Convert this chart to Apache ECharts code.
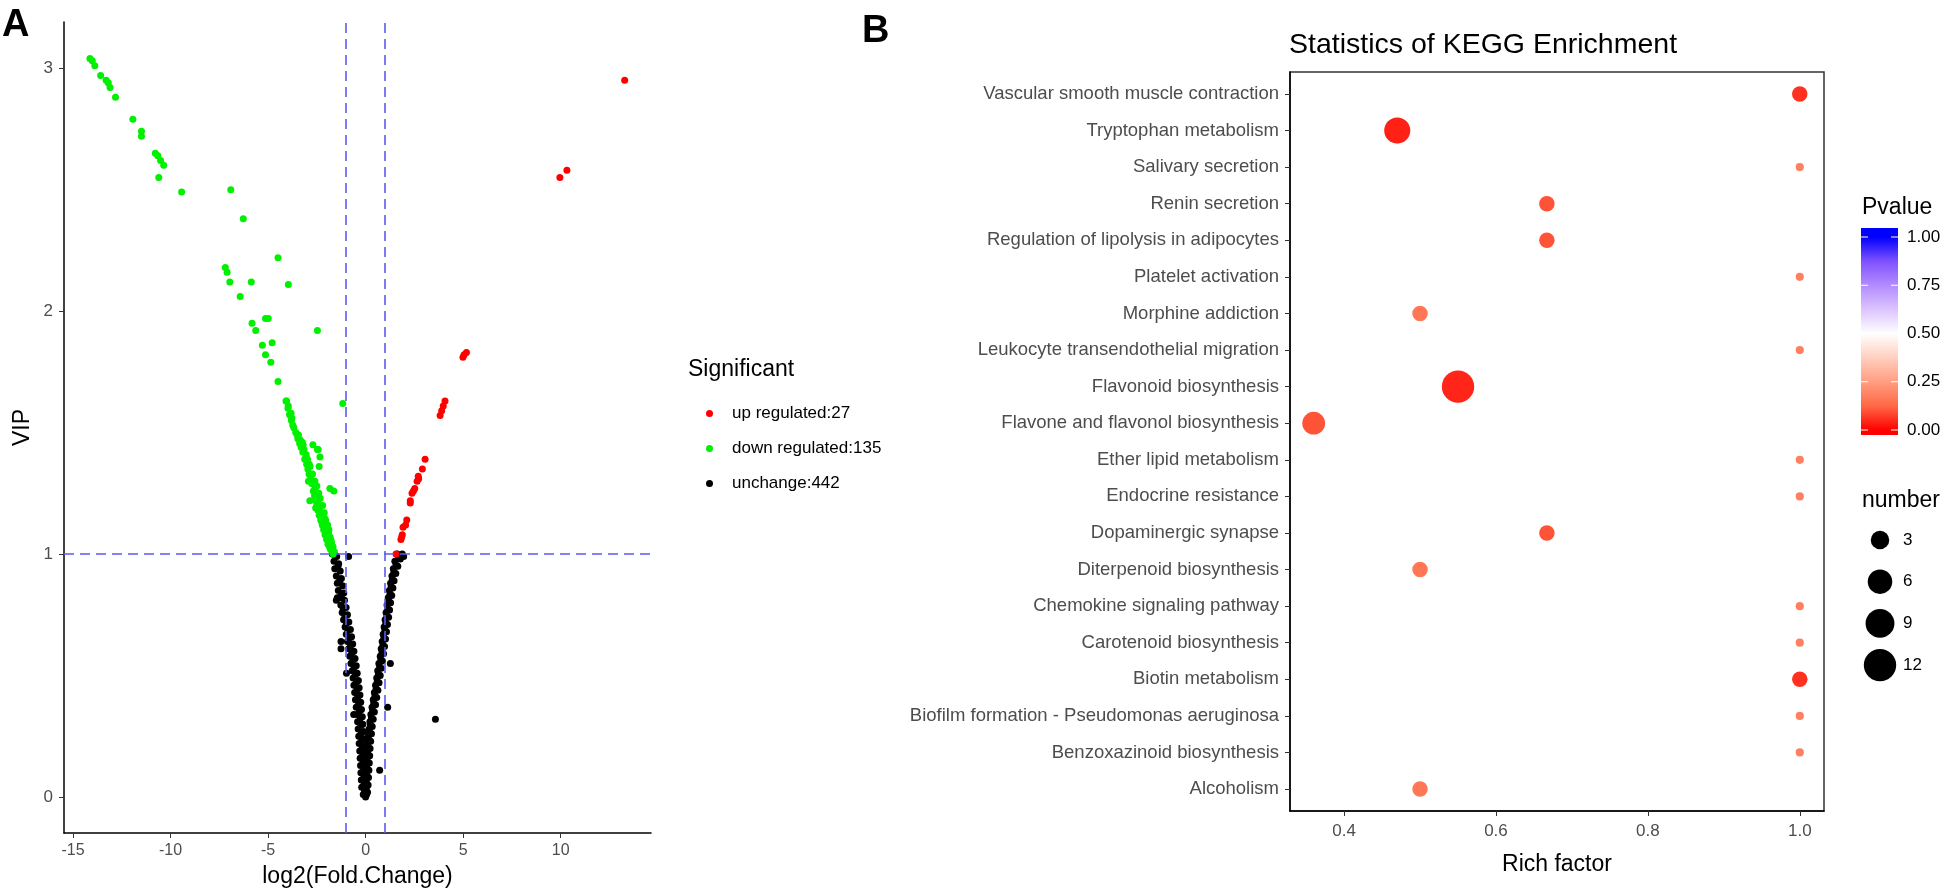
<!DOCTYPE html>
<html>
<head>
<meta charset="utf-8">
<script src="https://cdn.jsdelivr.net/npm/echarts@6/dist/echarts.min.js"></script>
<style>
html,body{margin:0;padding:0;background:#fff;}
#chart{width:1946px;height:893px;}
</style>
</head>
<body>
<div id="chart"></div>
<script>
// ---------------- Panel A : volcano plot data (log2 fold change, VIP) ----------------
const volcanoXTicks = [-15, -10, -5, 0, 5, 10];
const volcanoYTicks = [0, 1, 2, 3];
const legendUp = 'up regulated:27';
const legendDown = 'down regulated:135';
const legendUnchanged = 'unchange:442';

const volcanoUp = [
  [13.28,2.95],[9.96,2.55],[10.32,2.58],[5.17,1.83],[4.99,1.81],[4.07,1.63],[3.98,1.61],
  [3.82,1.57],[3.05,1.39],[2.91,1.35],[2.72,1.31],[2.64,1.30],[2.52,1.27],[2.38,1.25],
  [2.29,1.22],[2.29,1.21],[2.11,1.14],[1.92,1.11],[1.88,1.08],[1.81,1.06],[1.56,1.00],
  [2.45,1.26],[2.70,1.32],[2.05,1.12],[1.85,1.07],[3.90,1.59],[5.05,1.82]
];

const volcanoDown = [
  [-14.13,3.04],[-14.01,3.03],[-13.88,3.01],[-13.58,2.97],[-13.30,2.95],[-13.19,2.94],
  [-13.10,2.92],[-12.82,2.88],[-11.93,2.79],[-11.49,2.74],[-11.49,2.72],[-10.78,2.65],
  [-10.65,2.64],[-10.51,2.62],[-10.35,2.60],[-10.60,2.55],[-9.43,2.49],[-6.91,2.50],
  [-6.27,2.38],[-4.49,2.22],[-7.19,2.18],[-7.10,2.16],[-6.96,2.12],[-5.86,2.12],
  [-3.96,2.11],[-6.43,2.06],[-5.13,1.97],[-4.99,1.97],[-5.82,1.95],[-5.63,1.92],
  [-2.47,1.92],[-5.29,1.86],[-4.79,1.87],[-5.13,1.82],[-4.86,1.79],[-4.49,1.71],
  [-4.05,1.63],[-3.96,1.61],[-3.82,1.58],[-3.78,1.56],[-3.73,1.53],[-1.17,1.62],
  [-3.44,1.49],[-3.25,1.46],[-2.70,1.45],[-2.47,1.43],[-4.08,1.63],[-3.85,1.57],
  [-3.50,1.49],[-3.28,1.46],[-3.16,1.43],[-2.43,1.43],[-3.05,1.40],[-2.34,1.40],
  [-2.89,1.37],[-2.38,1.36],[-2.93,1.30],[-2.70,1.29],[-2.59,1.27],[-1.83,1.27],
  [-1.63,1.26],[-2.86,1.22],[-2.43,1.22],[-2.56,1.19],[-2.36,1.18],[-2.24,1.16],
  [-2.11,1.15],[-2.24,1.13],[-1.95,1.12],[-1.88,1.10],[-1.92,1.08],[-1.79,1.06],
  [-1.74,1.04],[-1.67,1.03],[-1.60,1.01],
  [-3.98,1.60],[-3.90,1.575],[-3.80,1.55],[-3.68,1.52],[-3.58,1.50],[-3.47,1.475],
  [-3.38,1.455],[-3.30,1.44],[-3.22,1.42],[-3.12,1.39],[-3.02,1.37],[-2.96,1.35],
  [-2.90,1.33],[-2.82,1.31],[-2.76,1.29],[-2.68,1.26],[-2.62,1.24],[-2.55,1.22],
  [-2.50,1.20],[-2.45,1.18],[-2.38,1.16],[-2.30,1.14],[-2.22,1.12],[-2.15,1.10],
  [-2.08,1.08],[-2.00,1.06],[-1.93,1.04],[-1.85,1.03],[-1.80,1.02],[-1.72,1.01],
  [-1.66,1.00],[-3.35,1.47],[-3.20,1.45],[-3.05,1.41],[-2.98,1.39],[-2.85,1.36],
  [-2.72,1.33],[-2.60,1.30],[-2.50,1.28],[-2.40,1.25],[-2.33,1.23],[-2.20,1.20],
  [-2.12,1.17],[-2.05,1.14],[-1.97,1.12],[-1.90,1.09],[-1.82,1.07],[-1.75,1.05]
];

const volcanoUnchanged = [
  // left arm
  [-1.70,1.00],[-1.48,0.99],[-1.62,0.97],[-1.38,0.96],[-1.58,0.94],[-1.30,0.93],[-1.50,0.91],
  [-1.24,0.90],[-1.45,0.88],[-1.18,0.87],[-1.40,0.85],[-1.12,0.84],[-1.35,0.82],[-1.08,0.81],
  [-1.27,0.79],[-1.00,0.78],[-1.20,0.76],[-0.93,0.75],[-1.13,0.73],[-0.86,0.72],[-1.05,0.70],
  [-0.78,0.69],[-0.99,0.67],[-0.72,0.66],[-0.93,0.64],[-0.66,0.63],[-0.87,0.61],[-0.60,0.60],
  [-0.81,0.58],[-0.54,0.57],[-0.75,0.55],[-0.48,0.54],[-0.69,0.52],[-0.43,0.51],[-0.64,0.49],
  [-0.37,0.48],[-0.60,0.46],[-0.33,0.45],[-0.56,0.43],[-0.29,0.42],[-0.52,0.40],[-0.25,0.39],
  [-0.48,0.37],[-0.21,0.36],[-0.44,0.34],[-0.17,0.33],[-0.41,0.31],[-0.14,0.30],[-0.38,0.28],
  [-0.11,0.27],[-0.35,0.25],[-0.08,0.24],[-0.33,0.22],[-0.06,0.21],[-0.30,0.19],[-0.03,0.18],
  [-0.28,0.16],[-0.01,0.15],[-0.26,0.13],[0.01,0.12],[-0.24,0.10],[0.02,0.09],[-0.22,0.07],
  [0.03,0.06],[-0.20,0.04],[0.02,0.03],[-0.12,0.01],[0.00,0.00],
  [-1.55,0.995],[-1.42,0.95],[-1.33,0.89],[-1.24,0.83],[-1.15,0.775],[-1.06,0.745],[-0.98,0.715],
  [-0.90,0.685],[-0.83,0.655],[-0.76,0.625],[-0.70,0.595],[-0.64,0.565],[-0.58,0.535],[-0.52,0.505],
  [-0.47,0.475],[-0.43,0.445],[-0.39,0.415],[-0.35,0.385],[-0.31,0.355],[-0.27,0.325],[-0.24,0.295],
  [-0.21,0.265],[-0.19,0.235],[-0.16,0.205],[-0.14,0.175],[-0.12,0.145],[-0.10,0.115],[-0.08,0.085],
  [-0.07,0.055],[-0.05,0.025],
  // right arm
  [1.95,0.99],[1.62,1.00],[1.78,0.98],[1.50,0.97],[1.65,0.95],[1.42,0.94],[1.55,0.92],[1.35,0.91],
  [1.46,0.89],[1.28,0.88],[1.40,0.86],[1.22,0.85],[1.34,0.83],[1.16,0.82],[1.28,0.80],[1.10,0.79],
  [1.23,0.77],[1.05,0.76],[1.18,0.74],[1.00,0.73],[1.12,0.71],[0.95,0.70],[1.07,0.68],[0.90,0.67],
  [1.02,0.65],[0.85,0.64],[0.97,0.62],[0.80,0.61],[0.92,0.59],[0.75,0.58],[0.86,0.56],[0.68,0.55],
  [0.80,0.53],[0.62,0.52],[0.75,0.50],[0.57,0.49],[0.69,0.47],[0.51,0.46],[0.63,0.44],[0.45,0.43],
  [0.57,0.41],[0.39,0.40],[0.51,0.38],[0.33,0.37],[0.45,0.35],[0.27,0.34],[0.39,0.32],[0.22,0.31],
  [0.34,0.29],[0.18,0.28],[0.30,0.26],[0.14,0.25],[0.26,0.23],[0.11,0.22],[0.23,0.20],[0.08,0.19],
  [0.21,0.17],[0.06,0.16],[0.19,0.14],[0.05,0.13],[0.17,0.11],[0.04,0.10],[0.15,0.08],[0.03,0.07],
  [0.13,0.05],[0.04,0.04],[0.10,0.02],[0.05,0.01],
  [1.70,0.985],[1.56,0.955],[1.45,0.925],[1.37,0.895],[1.31,0.865],[1.25,0.835],[1.19,0.805],
  [1.14,0.775],[1.09,0.745],[1.04,0.715],[0.99,0.685],[0.94,0.655],[0.89,0.625],[0.84,0.595],
  [0.78,0.565],[0.72,0.535],[0.66,0.505],[0.60,0.475],[0.54,0.445],[0.48,0.415],[0.42,0.385],
  [0.36,0.355],[0.30,0.325],[0.25,0.295],[0.21,0.265],[0.17,0.235],[0.14,0.205],[0.12,0.175],
  [0.10,0.145],[0.09,0.115],[0.08,0.085],
  // scattered points
  [-0.87,0.99],[-1.26,0.64],[-1.26,0.61],[-0.98,0.51],[-1.45,0.82],[-1.50,0.81],[1.27,0.55],
  [1.13,0.37],[3.58,0.32],[0.72,0.11],[-0.61,0.34],[1.88,1.00]
];

const foldThresholds = [-1, 1];
const vipThreshold = 1;

// ---------------- Panel B : KEGG enrichment data ----------------
const keggCategories = [
  'Vascular smooth muscle contraction',
  'Tryptophan metabolism',
  'Salivary secretion',
  'Renin secretion',
  'Regulation of lipolysis in adipocytes',
  'Platelet activation',
  'Morphine addiction',
  'Leukocyte transendothelial migration',
  'Flavonoid biosynthesis',
  'Flavone and flavonol biosynthesis',
  'Ether lipid metabolism',
  'Endocrine resistance',
  'Dopaminergic synapse',
  'Diterpenoid biosynthesis',
  'Chemokine signaling pathway',
  'Carotenoid biosynthesis',
  'Biotin metabolism',
  'Biofilm formation - Pseudomonas aeruginosa',
  'Benzoxazinoid biosynthesis',
  'Alcoholism'
];
const richFactor = [1.0, 0.47, 1.0, 0.667, 0.667, 1.0, 0.5, 1.0, 0.55, 0.36,
                    1.0, 1.0, 0.667, 0.5, 1.0, 1.0, 1.0, 1.0, 1.0, 0.5];
const geneNumber = [2, 7, 1, 2, 2, 1, 2, 1, 12, 5,
                    1, 1, 2, 2, 1, 1, 2, 1, 1, 2];
const pValue = [0.06, 0.04, 0.18, 0.10, 0.10, 0.18, 0.16, 0.18, 0.045, 0.10,
                0.18, 0.18, 0.10, 0.16, 0.18, 0.18, 0.06, 0.18, 0.18, 0.16];
const richTicks = [0.4, 0.6, 0.8, 1.0];
const pvalueBreaks = [0, 0.25, 0.5, 0.75, 1];
const numberBreaks = [3, 6, 9, 12];

// ---------------- styling helpers ----------------
const FONT = "'Liberation Sans', Arial, Helvetica, sans-serif";
const TICK_COLOR = '#4D4D4D';
// red -> white -> blue (Lab-like) palette for Pvalue
const pPalette = ['#FF0000','#FF6846','#FF9E81','#FFCFBF','#FFFFFF','#DCC4FF','#B38BFF','#7E51FF','#0000FF'];
function sizeOf(n) { return 8.2 + 7.3 * Math.sqrt(n - 1); }

const keggData = keggCategories.map((c, i) => [richFactor[i], i, geneNumber[i], pValue[i], c]);

// geometry
const gA = {left: 64, top: 22, width: 587, height: 812};
const gB = {left: 1290, top: 72, width: 534, height: 739};

const graphics = [];
graphics.push({type:'text', x:2, y:7, style:{text:'A', fill:'#000', font:'bold 38px ' + FONT}});
graphics.push({type:'text', x:862, y:13, style:{text:'B', fill:'#000', font:'bold 38px ' + FONT}});
graphics.push({type:'text', x:688, y:370, style:{text:'Significant', fill:'#000', font:'23px ' + FONT, verticalAlign:'middle'}});
graphics.push({type:'text', x:1289, y:45, style:{text:'Statistics of KEGG Enrichment', fill:'#000', font:'28.5px ' + FONT, verticalAlign:'middle'}});
graphics.push({type:'text', x:1862, y:208, style:{text:'Pvalue', fill:'#000', font:'23px ' + FONT, verticalAlign:'middle'}});
graphics.push({type:'text', x:1862, y:501, style:{text:'number', fill:'#000', font:'23px ' + FONT, verticalAlign:'middle'}});

// colour bar
const cb = {x:1861, y:228, w:37, h:207, v1:237, v0:430};
const stops = pPalette.map((c, i) => {
  const v = i / (pPalette.length - 1);
  const yy = cb.v0 - (cb.v0 - cb.v1) * v;
  return {offset: (yy - cb.y) / cb.h, color: c};
}).reverse();
graphics.push({type:'rect', shape:{x:cb.x, y:cb.y, width:cb.w, height:cb.h},
  style:{fill: new echarts.graphic.LinearGradient(0, 0, 0, 1, stops)}});
pvalueBreaks.forEach(v => {
  const yy = cb.v0 - (cb.v0 - cb.v1) * v;
  graphics.push({type:'line', shape:{x1:cb.x, y1:yy, x2:cb.x + 7, y2:yy}, style:{stroke:'#fff', lineWidth:1}});
  graphics.push({type:'line', shape:{x1:cb.x + cb.w - 7, y1:yy, x2:cb.x + cb.w, y2:yy}, style:{stroke:'#fff', lineWidth:1}});
  graphics.push({type:'text', x:1907, y:yy, style:{text:v.toFixed(2), fill:'#000', font:'17px ' + FONT, verticalAlign:'middle'}});
});
// size legend
numberBreaks.forEach((n, i) => {
  const yy = 540 + i * 41.7;
  graphics.push({type:'circle', shape:{cx:1880, cy:yy, r:sizeOf(n) / 2}, style:{fill:'#000'}});
  graphics.push({type:'text', x:1903, y:yy, style:{text:String(n), fill:'#000', font:'17px ' + FONT, verticalAlign:'middle'}});
});

const dashStyle = {color:'#5B5BF2', width:1.6, type:[10, 6]};
const DOT = 7;

const option = {
  animation: false,
  backgroundColor: '#ffffff',
  textStyle: {fontFamily: FONT},
  grid: [
    Object.assign({containLabel:false}, gA),
    Object.assign({containLabel:false, show:true, borderColor:'#333', borderWidth:1.5, backgroundColor:'transparent'}, gB)
  ],
  legend: {
    data: [legendUp, legendDown, legendUnchanged],
    orient: 'vertical', left: 701, top: 400,
    itemWidth: 7, itemHeight: 7, itemGap: 18,
    icon: 'circle',
    textStyle: {fontSize: 17, color: '#000', padding: [0, 0, 0, 14], fontFamily: FONT},
    selectedMode: false
  },
  xAxis: [
    {
      type:'value', gridIndex:0, min:-15.46, max:14.63,
      name:'log2(Fold.Change)', nameLocation:'middle', nameGap:32,
      nameTextStyle:{fontSize:23, color:'#000'},
      axisLine:{show:true, onZero:false, lineStyle:{color:'#000', width:1.5}},
      axisTick:{show:true, length:5, customValues: volcanoXTicks, lineStyle:{color:'#333'}},
      axisLabel:{show:true, customValues: volcanoXTicks, fontSize:16, color:TICK_COLOR, margin:10},
      splitLine:{show:false}
    },
    {
      type:'value', gridIndex:1, min:0.3288, max:1.0319,
      name:'Rich factor', nameLocation:'middle', nameGap:42,
      nameTextStyle:{fontSize:23, color:'#000'},
      axisLine:{show:true, onZero:false, lineStyle:{color:'#000', width:1.5}},
      axisTick:{show:true, length:5, customValues: richTicks, lineStyle:{color:'#333'}},
      axisLabel:{show:true, customValues: richTicks, fontSize:17, color:TICK_COLOR, margin:12,
                 formatter: v => v.toFixed(1)},
      splitLine:{show:false}
    }
  ],
  yAxis: [
    {
      type:'value', gridIndex:0, min:-0.148, max:3.19,
      name:'VIP', nameLocation:'middle', nameGap:30,
      nameTextStyle:{fontSize:23, color:'#000'},
      axisLine:{show:true, onZero:false, lineStyle:{color:'#000', width:1.5}},
      axisTick:{show:true, length:5, customValues: volcanoYTicks, lineStyle:{color:'#333'}},
      axisLabel:{show:true, customValues: volcanoYTicks, fontSize:17, color:TICK_COLOR, margin:11},
      splitLine:{show:false}
    },
    {
      type:'value', gridIndex:1, inverse:true, min:-0.6, max:keggCategories.length - 0.4,
      axisLine:{show:true, onZero:false, lineStyle:{color:'#000', width:1.5}},
      axisTick:{show:true, length:5, customValues: keggCategories.map((c, i) => i), lineStyle:{color:'#333'}},
      axisLabel:{show:true, customValues: keggCategories.map((c, i) => i), fontSize:18.5, color:TICK_COLOR, margin:11,
                 formatter: v => keggCategories[Math.round(v)]},
      splitLine:{show:false}
    }
  ],
  visualMap: [{
    type:'continuous', show:false, min:0, max:1, dimension:3, seriesIndex:4,
    inRange:{color: pPalette}
  }],
  series: [
    {name: legendUnchanged, type:'scatter', xAxisIndex:0, yAxisIndex:0, data: volcanoUnchanged,
     symbolSize:DOT, itemStyle:{color:'#000000', opacity:1}, z:2},
    {name: legendDown, type:'scatter', xAxisIndex:0, yAxisIndex:0, data: volcanoDown,
     symbolSize:DOT, itemStyle:{color:'#00F000', opacity:1}, z:2},
    {name: legendUp, type:'scatter', xAxisIndex:0, yAxisIndex:0, data: volcanoUp,
     symbolSize:DOT, itemStyle:{color:'#FF0000', opacity:1}, z:2},
    {name:'thresholds', type:'scatter', xAxisIndex:0, yAxisIndex:0, data:[], z:5,
     markLine:{silent:true, symbol:['none','none'], label:{show:false}, lineStyle:dashStyle,
       data: foldThresholds.map(v => ({xAxis: v})).concat([{yAxis: vipThreshold}])}},
    {name:'KEGG', type:'scatter', xAxisIndex:1, yAxisIndex:1, data: keggData,
     symbolSize: v => sizeOf(v[2]), itemStyle:{opacity:1}, z:3}
  ],
  graphic: graphics
};

const chart = echarts.init(document.getElementById('chart'), null, {renderer:'canvas'});
chart.setOption(option);
</script>
</body>
</html>
